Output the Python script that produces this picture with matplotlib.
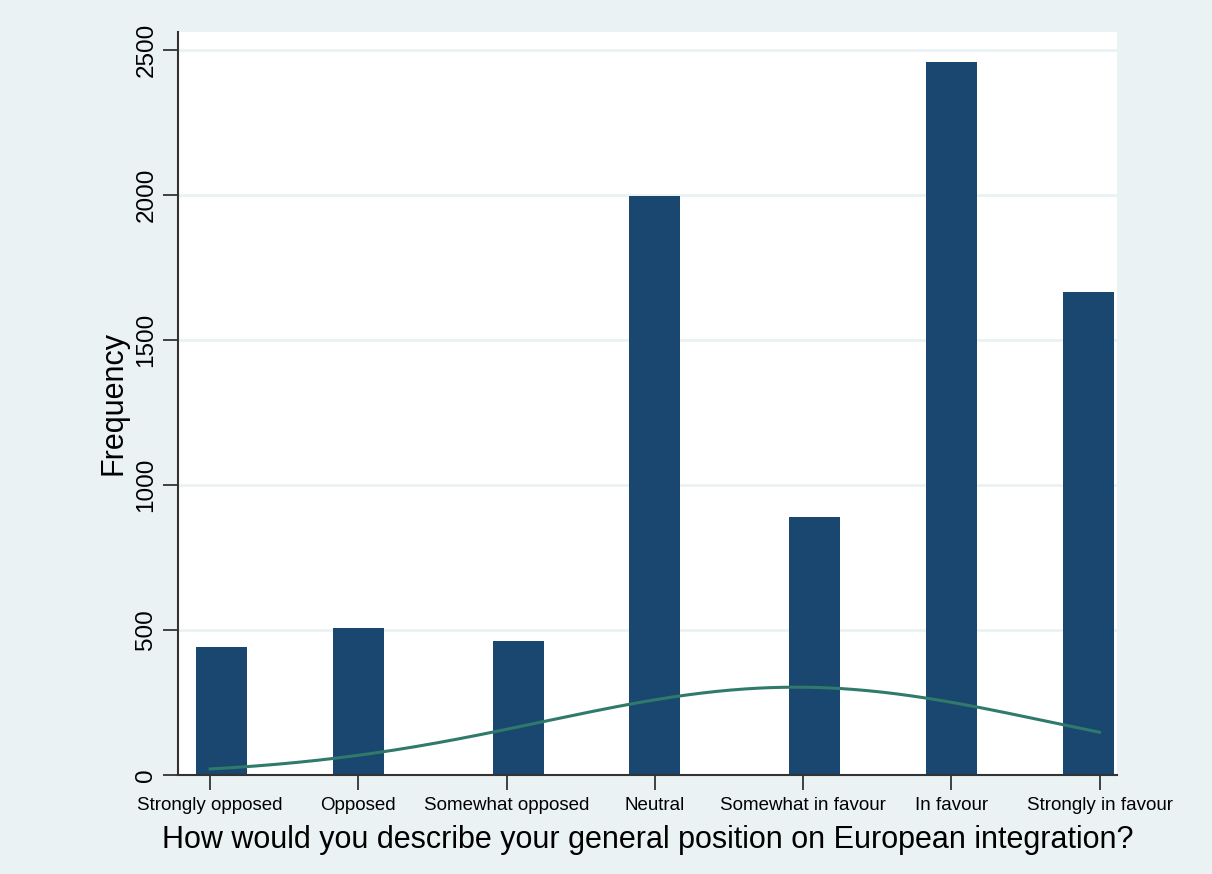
import numpy as np
import matplotlib
matplotlib.use("Agg")
import matplotlib.pyplot as plt

plt.rcParams["font.family"] = ["Liberation Sans", "DejaVu Sans"]

# answer categories (coded 1..7) and their labels
CODES = [1, 2, 3, 4, 5, 6, 7]
LABELS = ["Strongly opposed", "Opposed", "Somewhat opposed", "Neutral",
          "Somewhat in favour", "In favour", "Strongly in favour"]
# histogram bin centres (Stata default bins, 39 over 1..7) and frequencies
BIN_CENTRES = [1.077, 2.0, 3.077, 4.0, 5.077, 6.0, 6.923]
FREQ = [440, 505, 463, 1997, 888, 2458, 1665]
N_BINS = 39

BAR_COL = "#1A476F"
LINE_COL = "#2F7A6A"
BG = "#EAF2F3"

codes = np.array(CODES, dtype=float)
freq = np.array(FREQ, dtype=float)
n = freq.sum()
mu = (codes * freq).sum() / n
sd = np.sqrt(((codes - mu) ** 2 * freq).sum() / (n - 1))
bw = (codes.max() - codes.min()) / N_BINS

fig = plt.figure(figsize=(12.12, 8.74), dpi=100, facecolor=BG)
ax = fig.add_axes([0.147, 0.1133, 0.775, 0.8505])
ax.set_facecolor("white")

ax.bar(BIN_CENTRES, freq, width=0.344, color=BAR_COL, zorder=2)
xs = np.linspace(codes.min(), codes.max(), 300)
dens = np.exp(-0.5 * ((xs - mu) / sd) ** 2) / (sd * np.sqrt(2 * np.pi))
ax.plot(xs, dens * n * bw, color=LINE_COL, lw=2.2, zorder=3)

ax.set_xlim(0.784, 7.121)
ax.set_ylim(0, 2562)
ax.set_yticks([0, 500, 1000, 1500, 2000, 2500])
ax.set_xticks(CODES)
ax.set_xticklabels(LABELS, fontsize=13.5)
for lab in ax.get_yticklabels():
    lab.set_rotation(90)
    lab.set_va("center")
    lab.set_fontsize(17.5)
ax.tick_params(axis="both", direction="out", length=11, width=1.3, color="#333333")
ax.tick_params(axis="y", pad=4)
ax.tick_params(axis="x", pad=5)
ax.yaxis.grid(True, color=BG, lw=2.0, zorder=0)
ax.set_axisbelow(True)
for s in ["top", "right"]:
    ax.spines[s].set_visible(False)
for s in ["left", "bottom"]:
    ax.spines[s].set_color("#333333")
    ax.spines[s].set_linewidth(1.5)

ax.set_ylabel("Frequency", fontsize=22, labelpad=5)
ax.set_xlabel("How would you describe your general position on European integration?",
              fontsize=22, labelpad=8)

fig.savefig("out.png", dpi=100, facecolor=BG)
